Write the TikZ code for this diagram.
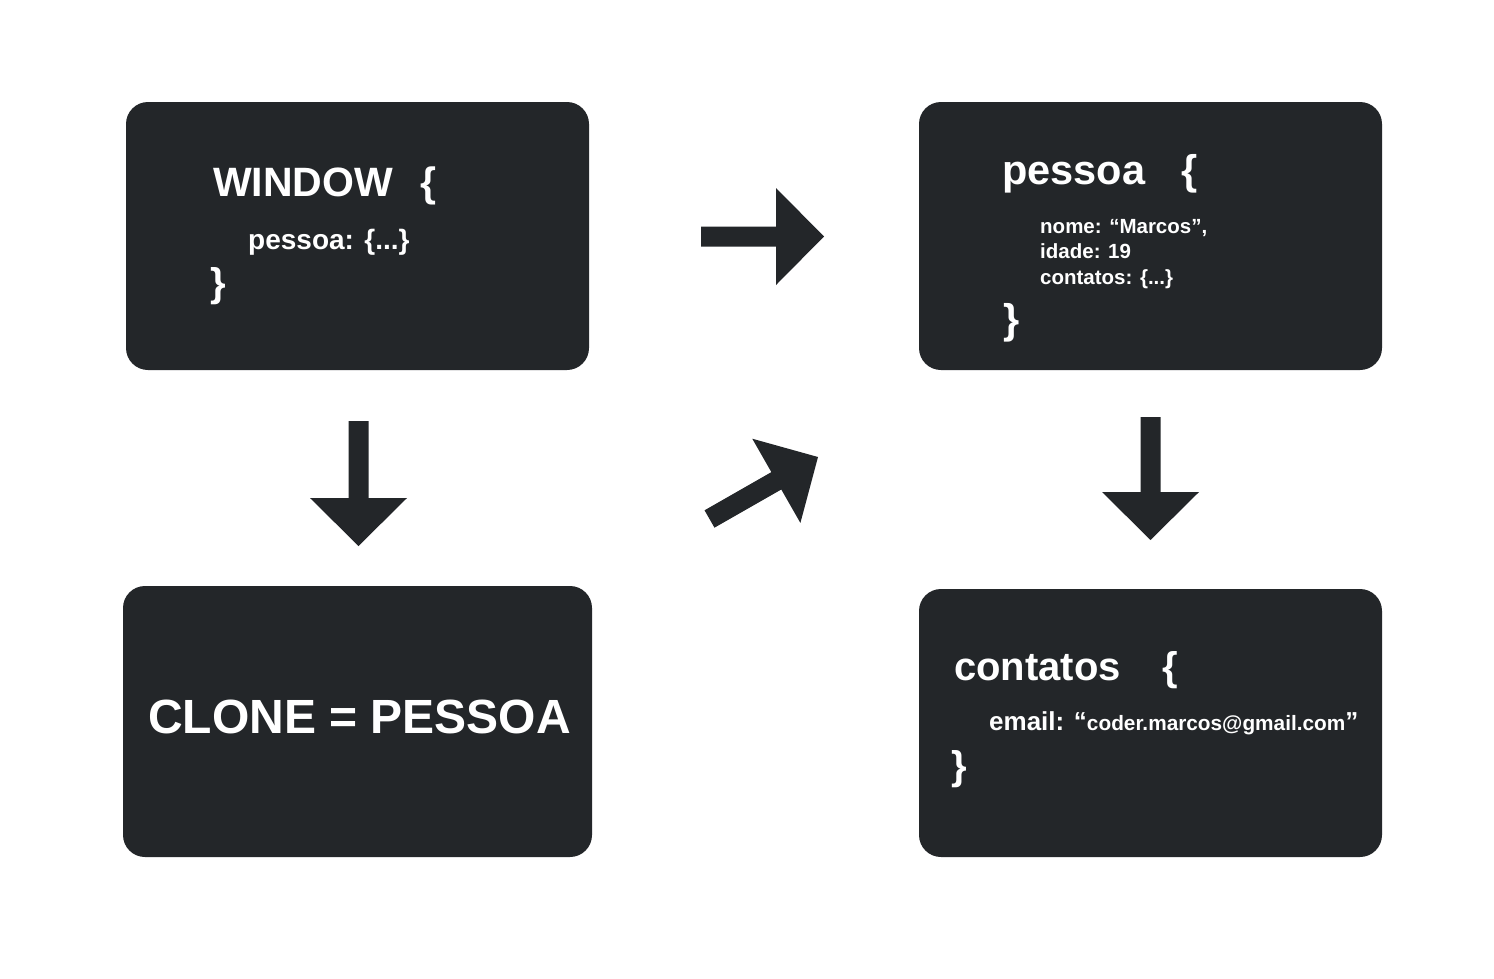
\documentclass[tikz,border=0pt]{standalone}
\usepackage{fontspec}
\setmainfont{Liberation Sans}
\usetikzlibrary{calc}

\definecolor{boxgray}{RGB}{35,38,41}
\newcommand\setfs[1]{\fontsize{#1pt}{#1pt}\selectfont}
\newcommand\threedots{...}

\tikzset{
  codebox/.style = {fill=boxgray, rounded corners=22pt, inner sep=0pt,
                    minimum width=463pt, minimum height=268pt},
  codetxt/.style = {text=white, anchor=base west, inner sep=0pt},
  % a flat block arrow from the start point to the tip
  fatarrow/.style = {fill=boxgray, to path={
      ($(\tikztostart)!10pt!90:(\tikztotarget)$)
      -- ($(\tikztotarget)!48pt!(\tikztostart)!10pt!90:(\tikztotarget)$)
      -- ($(\tikztotarget)!48pt!(\tikztostart)!48.5pt!90:(\tikztotarget)$)
      -- (\tikztotarget)
      -- ($(\tikztotarget)!48pt!(\tikztostart)!48.5pt!-90:(\tikztotarget)$)
      -- ($(\tikztotarget)!48pt!(\tikztostart)!10pt!-90:(\tikztotarget)$)
      -- ($(\tikztostart)!10pt!-90:(\tikztotarget)$)
      -- cycle}}
}

\begin{document}
\begin{tikzpicture}[x=1pt, y=-1pt]

  \useasboundingbox[fill=white] (0,0) rectangle (1494,978);

  % The four boxes

  \node[codebox] (win) at (357.5, 236) {};
  \node[codebox, minimum width=469pt, minimum height=271pt] (clone) at (357.5, 721.5) {};
  \node[codebox] (pes) at (1150.5, 236) {};
  \node[codebox] (con) at (1150.5, 723) {};

  % WINDOW object

  \node[codetxt, font=\bfseries\setfs{41}] (win-head) at (213, 196) {WINDOW\hspace{27pt}\{};
  \node[codetxt, font=\bfseries\setfs{28}] (win-prop) at (248, 249) {pessoa: \{\threedots\}};
  \node[codetxt, font=\bfseries\setfs{40}] (win-close) at (210, 296) {\}};

  % the clone

  \node[codetxt, anchor=base, font=\bfseries\setfs{48}] (clone-txt) at (359.5, 733) {CLONE = PESSOA};

  % pessoa object, one node per property line

  \node[codetxt, font=\bfseries\setfs{41.5}] (pes-head) at (1002, 184) {pessoa\hspace{36pt}\{};
  \foreach \txt [count=\i] in {{nome: “Marcos”,}, {idade: 19}, {contatos: \{\threedots\}}}
    \node[codetxt, font=\bfseries\setfs{20.5}] (pes-l\i) at (1040, 207.5 + 25.5*\i) {\txt};
  \node[codetxt, font=\bfseries\setfs{41.5}] (pes-close) at (1003, 333.5) {\}};

  % contatos object

  \node[codetxt, font=\bfseries\setfs{40}] (con-head) at (954, 680) {contatos\hspace{42pt}\{};
  \node[codetxt, font=\bfseries\setfs{26}] (con-mail) at (989, 730)
    {email: “{\setfs{20.8}coder.marcos@gmail.com}”};
  \node[codetxt, font=\bfseries\setfs{40}] (con-close) at (951, 779) {\}};

  % Free ends of the block arrows

  \coordinate (win-r)   at (701, 236.5);
  \coordinate (pes-l)   at (824, 236.5);
  \coordinate (win-d)   at (358.5, 421);
  \coordinate (clone-u) at (358.5, 546);
  \coordinate (clone-r) at (709.5, 519);
  \coordinate (pes-dl)  at (818, 457);
  \coordinate (pes-d)   at (1150.5, 417);
  \coordinate (con-u)   at (1150.5, 540);

  \path[fatarrow] (win-r)   to (pes-l);
  \path[fatarrow] (win-d)   to (clone-u);
  \path[fatarrow] (clone-r) to (pes-dl);
  \path[fatarrow] (pes-d)   to (con-u);

\end{tikzpicture}
\end{document}
